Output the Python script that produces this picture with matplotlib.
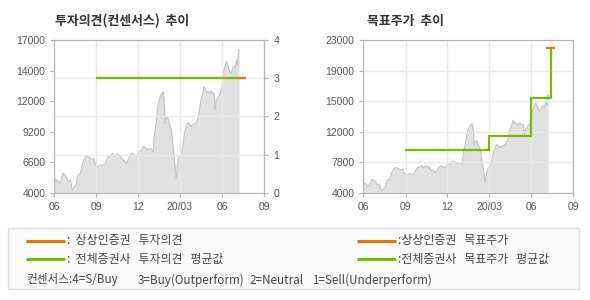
import matplotlib.pyplot as plt
from matplotlib.lines import Line2D
from matplotlib.patches import Rectangle
import pandas as pd

# price history
price_dates = [
    '2019-06-01', '2019-06-06', '2019-06-11', '2019-06-15', '2019-06-20', '2019-06-24',
    '2019-06-27', '2019-07-02', '2019-07-06', '2019-07-10', '2019-07-13', '2019-07-18',
    '2019-07-23', '2019-07-28', '2019-08-01', '2019-08-06', '2019-08-11', '2019-08-16',
    '2019-08-21', '2019-08-26', '2019-08-30', '2019-09-04', '2019-09-09', '2019-09-15',
    '2019-09-21', '2019-09-26', '2019-10-02', '2019-10-07', '2019-10-10', '2019-10-16',
    '2019-10-21', '2019-10-27', '2019-11-01', '2019-11-06', '2019-11-12', '2019-11-17',
    '2019-11-23', '2019-11-28', '2019-12-02', '2019-12-07', '2019-12-12', '2019-12-18',
    '2019-12-23', '2019-12-29', '2020-01-03', '2020-01-05', '2020-01-09', '2020-01-13',
    '2020-01-16', '2020-01-20', '2020-01-24', '2020-01-26', '2020-01-29', '2020-01-31',
    '2020-02-03', '2020-02-07', '2020-02-11', '2020-02-14', '2020-02-18', '2020-02-22',
    '2020-02-24', '2020-02-27', '2020-03-03', '2020-03-07', '2020-03-11', '2020-03-14',
    '2020-03-18', '2020-03-22', '2020-03-25', '2020-03-29', '2020-04-02', '2020-04-05',
    '2020-04-09', '2020-04-12', '2020-04-16', '2020-04-20', '2020-04-23', '2020-04-27',
    '2020-05-01', '2020-05-04', '2020-05-08', '2020-05-11', '2020-05-15', '2020-05-17',
    '2020-05-20', '2020-05-24', '2020-05-28', '2020-06-01', '2020-06-03', '2020-06-07',
    '2020-06-11', '2020-06-15', '2020-06-19', '2020-06-22', '2020-06-26', '2020-06-30',
    '2020-07-03', '2020-07-05', '2020-07-07', '2020-07-08',
]
price_values = [
    5220, 5080, 4800, 4940, 5650, 5500,
    5360, 4940, 5080, 4230, 4370, 4650,
    5500, 5650, 6360, 6920, 7120, 7010,
    6840, 6920, 6360, 6210, 6360, 6300,
    6440, 7070, 7210, 7350, 7070, 7300,
    7210, 6840, 6720, 6500, 7070, 7350,
    7210, 7070, 7630, 7490, 7920, 7770,
    7630, 7770, 7490, 8770, 9900, 11320,
    11890, 12320, 12600, 12170, 9900, 10330,
    10470, 9900, 9340, 8200, 6780, 5220,
    6210, 6920, 7210, 7920, 9050, 9480,
    9960, 9850, 9620, 9760, 9900, 9900,
    10330, 10900, 11890, 12460, 13030, 12600,
    12600, 12460, 12660, 12460, 12460, 11040,
    11890, 12170, 12460, 13030, 14020, 14730,
    15160, 14590, 14160, 14300, 14790, 14590,
    15300, 14870, 16150, 16200,
]

# investment opinion (consensus, 1..4)
opinion_avg_dates = ['2019-09-01', '2020-07-05']
opinion_avg = [3, 3]
opinion_firm_dates = ['2020-07-05', '2020-07-23']
opinion_firm = [3, 3]

# target price
target_avg_dates = ['2019-09-01', '2020-03-01', '2020-06-01', '2020-07-15']
target_avg = [9350, 11100, 15800, 22000]
target_firm_dates = ['2020-07-04', '2020-07-22']
target_firm = [22000, 22000]

x_tick_dates = ['2019-06-01', '2019-09-01', '2019-12-01', '2020-03-01', '2020-06-01', '2020-09-01']
x_tick_labels = ['06', '09', '12', '20/03', '06', '09']

left_ticks = [4000, 6600, 9200, 11800, 14400, 17000]
left_tick_labels = ['4000', '6600', '9200', '12000', '14000', '17000']
opinion_ticks = [0, 1, 2, 3, 4]
right_ticks = [4000, 7800, 11600, 15400, 19200, 23000]
right_tick_labels = ['4000', '7800', '12000', '15000', '19000', '23000']

consensus_parts = ['컨센서스:4=S/Buy', '3=Buy(Outperform)', '2=Neutral', '1=Sell(Underperform)']
consensus_x = [26, 138, 249, 312]

ORANGE = '#f07000'
GREEN = '#7cb900'
GRID = '#e9e9e9'
KR = ['Noto Sans CJK KR', 'DejaVu Sans']
NUM = ['Liberation Sans', 'DejaVu Sans']

px = pd.to_datetime(price_dates)
xt = pd.to_datetime(x_tick_dates)


def style_axis(ax):
    for s in ax.spines.values():
        s.set_color('#b4b4b4')
    ax.tick_params(colors='#b4b4b4', labelcolor='#555555', length=3, labelsize=7.5)
    for lab in ax.get_xticklabels() + ax.get_yticklabels():
        lab.set_family(NUM)
    ax.set_xlim(xt[0], xt[-1])
    ax.set_xticks(xt)
    ax.set_xticklabels(x_tick_labels, family=NUM)
    ax.xaxis.grid(True, color=GRID, lw=1)


fig = plt.figure(figsize=(5.9, 3.0), dpi=100)

# ---- left: opinion ----
ax1 = fig.add_axes([0.0920, 0.3577, 0.3559, 0.5090])
ax1.fill_between(px, 4000, price_values, color='#e1e1e1', lw=0, zorder=1)
ax1.plot(px, price_values, color='#c4c4c4', lw=0.9, zorder=1.2)
ax1.set_ylim(4000, 17000)
ax1.set_yticks(left_ticks)
ax1.set_yticklabels(left_tick_labels)
style_axis(ax1)

ax1b = ax1.twinx()
ax1b.set_ylim(0, 4)
ax1b.set_yticks(opinion_ticks)
ax1b.yaxis.grid(True, color=GRID, lw=1)
ax1b.plot(pd.to_datetime(opinion_avg_dates), opinion_avg, color=GREEN, lw=1.7,
          solid_capstyle='butt', zorder=3)
ax1b.plot(pd.to_datetime(opinion_firm_dates), opinion_firm, color=ORANGE, lw=1.7,
          solid_capstyle='butt', zorder=3)
style_axis(ax1b)
ax1b.xaxis.grid(False)
ax1b.patch.set_visible(False)

# ---- right: target price ----
ax2 = fig.add_axes([0.6158, 0.3577, 0.3559, 0.5090])
ax2.yaxis.grid(True, color=GRID, lw=1)
ax2.fill_between(px, 4000, price_values, color='#e1e1e1', lw=0, zorder=1)
ax2.plot(px, price_values, color='#c4c4c4', lw=0.9, zorder=1.2)
ax2.plot(pd.to_datetime(target_avg_dates), target_avg, color=GREEN, lw=1.6,
         drawstyle='steps-post', solid_joinstyle='miter', zorder=3)
ax2.plot(pd.to_datetime(target_firm_dates), target_firm, color=ORANGE, lw=1.6,
         solid_capstyle='butt', zorder=3)
ax2.set_ylim(4000, 23000)
ax2.set_yticks(right_ticks)
ax2.set_yticklabels(right_tick_labels)
style_axis(ax2)

# titles
fig.text(55 / 590, 1 - 20.5 / 300, '투자의견(컨센서스)  추이', family=KR, fontsize=9.3,
         fontweight='bold', color='#333333', va='center')
fig.text(367 / 590, 1 - 20.5 / 300, '목표주가  추이', family=KR, fontsize=9.3,
         fontweight='bold', color='#333333', va='center')

# legend box
fig.patches.append(Rectangle((8 / 590, 1 - 289 / 300), 571 / 590, 61 / 300,
                             transform=fig.transFigure, facecolor='#fafafa',
                             edgecolor='#dddddd', lw=1))
legend_rows = [
    (26, 240.7, ORANGE, ':  상상인증권   투자의견'),
    (26, 259.3, GREEN, ':  전체증권사   투자의견   평균값'),
    (357, 240.7, ORANGE, ':상상인증권   목표주가'),
    (357, 259.3, GREEN, ':전체증권사   목표주가   평균값'),
]
for x0, y0, c, txt in legend_rows:
    fig.lines.append(Line2D([x0 / 590, (x0 + 39) / 590], [1 - y0 / 300, 1 - y0 / 300],
                            transform=fig.transFigure, color=c, lw=2.2, solid_capstyle='butt'))
    fig.text((x0 + 41) / 590, 1 - y0 / 300, txt, family=KR, fontsize=8.6,
             color='#444444', va='center')
for xx, part in zip(consensus_x, consensus_parts):
    fig.text(xx / 590, 1 - 280 / 300, part, family=KR, fontsize=8.4, color='#444444', va='center')

fig.savefig('out.png', dpi=100)
